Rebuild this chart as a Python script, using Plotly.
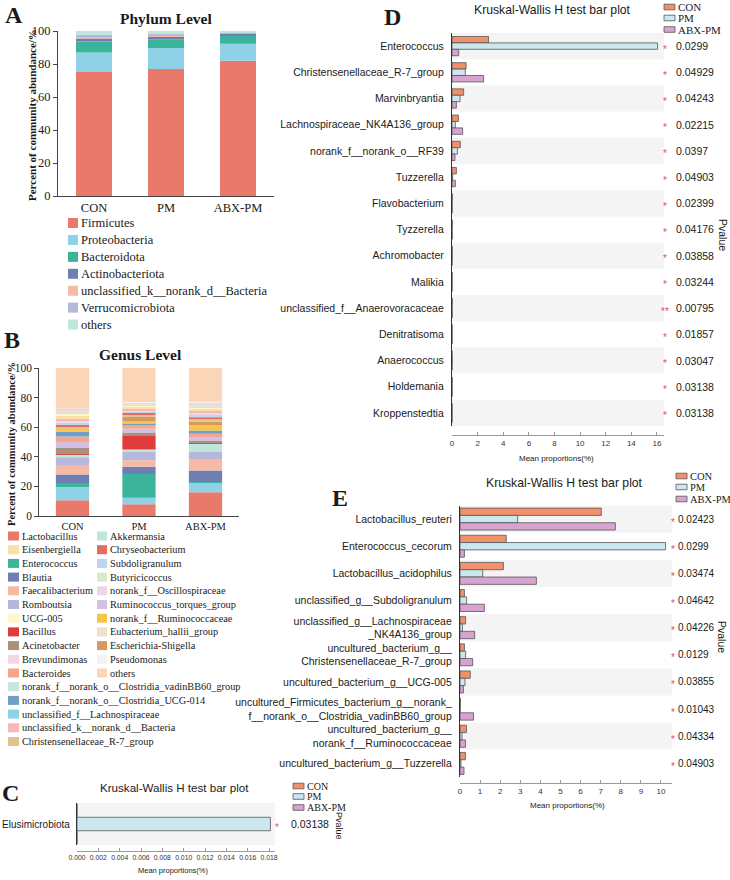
import numpy as np
import plotly.graph_objects as go

W, H = 730, 880
SERIF = "Times New Roman, Liberation Serif, serif"
SANS = "Arial, Liberation Sans, Helvetica, sans-serif"


def fx(x):
    return x / W


def fy(y):
    return 1 - y / H


# ---------------- data ----------------
groups = ["CON", "PM", "ABX-PM"]

# Panel A - phylum level (percent)
phylum_names = ["Firmicutes", "Proteobacteria", "Bacteroidota", "Actinobacteriota",
                "unclassified_k__norank_d__Bacteria", "Verrucomicrobiota", "others"]
phylum_con = [75.2, 11.8, 6.7, 1.8, 1.3, 0.9, 2.3]
phylum_pm = [77.0, 12.7, 5.3, 1.5, 0.9, 0.6, 2.0]
phylum_abx = [82.0, 10.3, 5.1, 0.9, 0.3, 0.5, 0.9]

# Panel B - genus level (percent), stack order bottom -> top
genus_names = ["Lactobacillus", "unclassified_f__Lachnospiraceae", "Enterococcus", "Blautia",
               "Faecalibacterium", "Romboutsia", "Akkermansia", "Bacillus", "Acinetobacter",
               "Ruminococcus_torques_group", "Bacteroides", "norank_f__norank_o__Clostridia_UCG-014",
               "norank_f__Ruminococcaceae", "Escherichia-Shigella", "Christensenellaceae_R-7_group",
               "Chryseobacterium", "Subdoligranulum", "norank_f__Oscillospiraceae",
               "unclassified_k__norank_d__Bacteria", "Eisenbergiella", "UCG-005", "Butyricicoccus",
               "Eubacterium_hallii_group", "Brevundimonas",
               "norank_f__norank_o__Clostridia_vadinBB60_group", "Pseudomonas", "others"]
genus_con = [10.7, 8.9, 2.7, 5.8, 5.8, 5.8, 1.8, 0.3, 4.4, 3.8, 3.8, 3.3, 1.8, 0.4, 1.0,
             1.2, 1.5, 1.5, 1.0, 2.0, 2.0, 1.0, 0.8, 0.6, 0.5, 0.3, 27.3]
genus_pm = [8.0, 4.4, 16.0, 4.9, 4.4, 5.8, 1.5, 9.1, 2.4, 2.4, 2.2, 1.5, 1.2, 3.4, 1.4,
            1.0, 0.9, 1.0, 1.2, 1.0, 0.8, 0.7, 0.9, 0.3, 0.4, 0.3, 22.9]
genus_abx = [16.0, 6.7, 0.5, 7.5, 7.3, 5.3, 5.6, 0.2, 1.5, 2.7, 2.2, 2.2, 3.8, 2.2, 2.0,
             0.8, 1.8, 1.6, 1.0, 1.5, 1.0, 1.2, 1.0, 0.4, 1.0, 0.2, 22.8]

genus_legend_col1 = ["Lactobacillus", "Eisenbergiella", "Enterococcus", "Blautia",
                     "Faecalibacterium", "Romboutsia", "UCG-005", "Bacillus", "Acinetobacter",
                     "Brevundimonas", "Bacteroides",
                     "norank_f__norank_o__Clostridia_vadinBB60_group",
                     "norank_f__norank_o__Clostridia_UCG-014",
                     "unclassified_f__Lachnospiraceae", "unclassified_k__norank_d__Bacteria",
                     "Christensenellaceae_R-7_group"]
genus_legend_col2 = ["Akkermansia", "Chryseobacterium", "Subdoligranulum", "Butyricicoccus",
                     "norank_f__Oscillospiraceae", "Ruminococcus_torques_group",
                     "norank_f__Ruminococcaceae", "Eubacterium_hallii_group",
                     "Escherichia-Shigella", "Pseudomonas", "others"]

# Panel C
c_cats = ["Elusimicrobiota"]
c_con = [0.0]
c_pm = [0.01813]
c_abx = [0.0]
c_pvals = [0.03138]
c_sig = ["*"]

# Panel D
d_cats = ["Enterococcus", "Christensenellaceae_R-7_group", "Marvinbryantia",
          "Lachnospiraceae_NK4A136_group", "norank_f__norank_o__RF39", "Tuzzerella",
          "Flavobacterium", "Tyzzerella", "Achromobacter", "Malikia",
          "unclassified_f__Anaerovoracaceae", "Denitratisoma", "Anaerococcus", "Holdemania",
          "Kroppenstedtia"]
d_con = [2.85, 1.10, 0.91, 0.50, 0.65, 0.34, 0.02, 0.02, 0.01, 0.01, 0.02, 0.01, 0.005, 0.01, 0.003]
d_pm = [16.05, 1.04, 0.63, 0.26, 0.42, 0.05, 0.01, 0.01, 0.02, 0.01, 0.005, 0.005, 0.02, 0.003, 0.01]
d_abx = [0.52, 2.47, 0.34, 0.83, 0.23, 0.26, 0.01, 0.02, 0.005, 0.005, 0.01, 0.01, 0.005, 0.01, 0.002]
d_pvals = [0.0299, 0.04929, 0.04243, 0.02215, 0.0397, 0.04903, 0.02399, 0.04176, 0.03858,
           0.03244, 0.00795, 0.01857, 0.03047, 0.03138, 0.03138]
d_sig = ["*", "*", "*", "*", "*", "*", "*", "*", "*", "*", "**", "*", "*", "*", "*"]

# Panel E
e_cats = ["Lactobacillus_reuteri", "Enterococcus_cecorum", "Lactobacillus_acidophilus",
          "unclassified_g__Subdoligranulum",
          "unclassified_g__Lachnospiraceae<br>_NK4A136_group",
          "uncultured_bacterium_g__<br>Christensenellaceae_R-7_group",
          "uncultured_bacterium_g__UCG-005",
          "uncultured_Firmicutes_bacterium_g__norank_<br>f__norank_o__Clostridia_vadinBB60_group",
          "uncultured_bacterium_g__<br>norank_f__Ruminococcaceae",
          "uncultured_bacterium_g__Tuzzerella"]
e_con = [7.03, 2.30, 2.16, 0.22, 0.28, 0.22, 0.51, 0.02, 0.32, 0.27]
e_pm = [2.87, 10.23, 1.13, 0.33, 0.12, 0.28, 0.25, 0.01, 0.10, 0.05]
e_abx = [7.73, 0.22, 3.80, 1.21, 0.73, 0.63, 0.17, 0.67, 0.27, 0.20]
e_pvals = [0.02423, 0.0299, 0.03474, 0.04642, 0.04226, 0.0129, 0.03855, 0.01043, 0.04334, 0.04903]
e_sig = ["*"] * 10

# ---------------- styles ----------------
phylum_colors = {
    "Firmicutes": "#E8796B", "Proteobacteria": "#8FD1E6", "Bacteroidota": "#3CB39B",
    "Actinobacteriota": "#6E7FB3", "unclassified_k__norank_d__Bacteria": "#F6B9A4",
    "Verrucomicrobiota": "#B5B8DA", "others": "#BFE6DC",
}
genus_colors = {
    "Lactobacillus": "#E8796B", "Eisenbergiella": "#FDDDA8", "Enterococcus": "#3CB39B",
    "Blautia": "#6E7FB3", "Faecalibacterium": "#F6B9A4", "Romboutsia": "#B5B8DA",
    "UCG-005": "#FFF6CF", "Bacillus": "#E23B3B", "Acinetobacter": "#A8917D",
    "Brevundimonas": "#F8D5E6", "Bacteroides": "#F4A58B",
    "norank_f__norank_o__Clostridia_vadinBB60_group": "#C7E6DD",
    "norank_f__norank_o__Clostridia_UCG-014": "#6E9FC8",
    "unclassified_f__Lachnospiraceae": "#8FD1E6",
    "unclassified_k__norank_d__Bacteria": "#F7B8B8",
    "Christensenellaceae_R-7_group": "#E3C08C", "Akkermansia": "#BFE6DC",
    "Chryseobacterium": "#E56B5D", "Subdoligranulum": "#BCD6EE", "Butyricicoccus": "#D7EACB",
    "norank_f__Oscillospiraceae": "#EBD7EC", "Ruminococcus_torques_group": "#D5BFE2",
    "norank_f__Ruminococcaceae": "#F8C545", "Eubacterium_hallii_group": "#EDE1C9",
    "Escherichia-Shigella": "#D7985F", "Pseudomonas": "#F7F1F1", "others": "#FBD5B8",
}
group_colors = {"CON": "#F0916B", "PM": "#CBE8EE", "ABX-PM": "#D8A2D3"}
STAR = "#E0506A"
SHADE = "#F4F4F4"

fig = go.Figure()


# ---------------- stacked bars (A, B) ----------------
def stacked(names, con, pm, abx, colors, xa, ya):
    vals = np.array([con, pm, abx], dtype=float).T
    base = np.zeros(3)
    for name, v in zip(names, vals):
        fig.add_trace(go.Bar(x=groups, y=v, base=base.copy(), width=0.5, name=name,
                             marker=dict(color=colors[name], line=dict(width=0)),
                             xaxis=xa, yaxis=ya, showlegend=False))
        base = base + v


stacked(phylum_names, phylum_con, phylum_pm, phylum_abx, phylum_colors, "x", "y")
stacked(genus_names, genus_con, genus_pm, genus_abx, genus_colors, "x2", "y2")


# ---------------- grouped horizontal bars (C, D, E) ----------------
def grouped(cats, series, xa, ya, w):
    for k, (g, v) in enumerate(zip(groups, series)):
        fig.add_trace(go.Bar(y=cats, x=v, orientation="h", width=w, offset=(k - 1.5) * w,
                             name=g, marker=dict(color=group_colors[g],
                                                 line=dict(color="#555555", width=0.8)),
                             xaxis=xa, yaxis=ya, showlegend=False))


grouped(c_cats, [c_con, c_pm, c_abx], "x3", "y3", 0.32)
grouped(d_cats, [d_con, d_pm, d_abx], "x4", "y4", 0.245)
grouped(e_cats, [e_con, e_pm, e_abx], "x5", "y5", 0.27)

ann = []
shapes = []


def text(x, y, s, size, family=SERIF, xanchor="left", yanchor="middle", color="#1a1a1a",
         angle=0, yref="paper", yshift=0):
    ann.append(dict(x=fx(x), y=(fy(y) if yref == "paper" else y),
                    xref="paper", yref=yref, text=s, showarrow=False,
                    xanchor=xanchor, yanchor=yanchor, textangle=angle, yshift=yshift,
                    font=dict(family=family, size=size, color=color), borderpad=0))


def rect(x0, y0, x1, y1, color, lw=0, lc="#555555"):
    shapes.append(dict(type="rect", xref="paper", yref="paper", x0=fx(x0), x1=fx(x1),
                       y0=fy(y1), y1=fy(y0), fillcolor=color,
                       line=dict(width=lw, color=lc), layer="above"))


def shade_rows(n, xa, ya):
    for i in range(0, n, 2):
        shapes.append(dict(type="rect", xref=xa + " domain", yref=ya, x0=0, x1=1,
                           y0=i - 0.5, y1=i + 0.5, fillcolor=SHADE, line=dict(width=0),
                           layer="below"))


# ---------------- panel A texts / legend ----------------
text(14, 15, "<b>A</b>", 24, xanchor="center")
text(166, 18, "<b>Phylum Level</b>", 15.5, xanchor="center")
text(32, 115, "<b>Percent of community abundance/%</b>", 11, xanchor="center", angle=-90)
for i, name in enumerate(phylum_names):
    yc = 223 + 16.93 * i
    rect(68, yc - 5, 78, yc + 5, phylum_colors[name])
    text(80, yc, name, 12.5)

# ---------------- panel B texts / legend ----------------
text(12, 340, "<b>B</b>", 24, xanchor="center")
text(140, 355, "<b>Genus Level</b>", 15.5, xanchor="center")
text(11, 444, "<b>Percent of community abundance/%</b>", 10.5, xanchor="center", angle=-90)
for i, name in enumerate(genus_legend_col1):
    yc = 536 + 13.7 * i
    rect(8, yc - 4.5, 19, yc + 4.5, genus_colors[name])
    text(21, yc, name, 10.3)
for i, name in enumerate(genus_legend_col2):
    yc = 536 + 13.7 * i
    rect(97, yc - 4.5, 107, yc + 4.5, genus_colors[name])
    text(109, yc, name, 10.3)


# ---------------- group legends ----------------
def group_legend(xs, ys, size):
    for g, yc in zip(groups, ys):
        rect(xs, yc - 2.8, xs + 11, yc + 2.8, group_colors[g], lw=0.8)
        text(xs + 13, yc, g, size)


# ---------------- panel C ----------------
text(10, 793, "<b>C</b>", 24, xanchor="center")
text(174, 787, "Kruskal-Wallis H test bar plot", 11.6, family=SANS, xanchor="center")
group_legend(293, [786, 796.5, 807.5], 10)
text(173, 870, "Mean proportions(%)", 7.5, family=SANS, xanchor="center")
text(339, 826, "Pvalue", 9, family=SANS, xanchor="center", angle=90)
for i, (p, s) in enumerate(zip(c_pvals, c_sig)):
    text(277, i, s, 10, family=SANS, xanchor="center", yref="y3", color=STAR, yshift=-3)
    text(290, i, str(p), 10.5, family=SANS, yref="y3")
shade_rows(len(c_cats), "x3", "y3")

# ---------------- panel D ----------------
text(393, 17, "<b>D</b>", 24, xanchor="center")
text(552, 10, "Kruskal-Wallis H test bar plot", 12.2, family=SANS, xanchor="center")
group_legend(664, [7, 18, 29.5], 11)
text(556, 458, "Mean proportions(%)", 8, family=SANS, xanchor="center")
text(723, 235, "Pvalue", 10.5, family=SANS, xanchor="center", angle=90)
for i, (p, s) in enumerate(zip(d_pvals, d_sig)):
    text(665, i, s, 10, family=SANS, xanchor="center", yref="y4", color=STAR, yshift=-3)
    text(675, i, str(p), 10.5, family=SANS, yref="y4")
shade_rows(len(d_cats), "x4", "y4")

# ---------------- panel E ----------------
text(340, 498, "<b>E</b>", 24, xanchor="center")
text(564, 483, "Kruskal-Wallis H test bar plot", 12.2, family=SANS, xanchor="center")
group_legend(676, [476, 487, 499], 10.5)
text(567, 805, "Mean proportions(%)", 8, family=SANS, xanchor="center")
text(722, 637, "Pvalue", 10.5, family=SANS, xanchor="center", angle=90)
for i, (p, s) in enumerate(zip(e_pvals, e_sig)):
    text(673, i, s, 10, family=SANS, xanchor="center", yref="y5", color=STAR, yshift=-3)
    text(677, i, str(p), 10, family=SANS, yref="y5")
shade_rows(len(e_cats), "x5", "y5")

# ---------------- axes ----------------
cat_x = dict(type="category", showline=True, linecolor="#444444", linewidth=1, ticks="",
             showgrid=False, zeroline=False)
pct_y = dict(range=[0, 100], dtick=20, tick0=0, showline=True, linecolor="#444444",
             linewidth=1, ticks="outside", ticklen=4, tickcolor="#444444",
             showgrid=False, zeroline=False)
prop_x = dict(showline=True, linecolor="#9a9a9a", linewidth=1, ticks="inside", ticklen=3,
              tickcolor="#9a9a9a", showgrid=False, zeroline=False, anchor="free",
              tickangle=0, tickfont=dict(family=SANS, size=8, color="#333333"))
cat_y = dict(type="category", showline=True, linecolor="#333333", linewidth=1.3, ticks="",
             showgrid=False, zeroline=False, ticklabelstandoff=5,
             tickfont=dict(family=SANS, size=10.5, color="#1a1a1a"))

fig.update_layout(
    template="none",
    width=W, height=H, autosize=False,
    margin=dict(l=0, r=0, t=0, b=0),
    paper_bgcolor="white", plot_bgcolor="rgba(0,0,0,0)",
    barmode="overlay",
    font=dict(family=SANS, size=10, color="#1a1a1a"),
    showlegend=False,
    hovermode=False,
    xaxis=dict(cat_x, domain=[fx(58), fx(274)], anchor="y",
               tickfont=dict(family=SERIF, size=12.5, color="#1a1a1a")),
    yaxis=dict(pct_y, domain=[fy(196), fy(31)], anchor="x",
               tickfont=dict(family=SERIF, size=12.5, color="#1a1a1a")),
    xaxis2=dict(cat_x, domain=[fx(39.25), fx(238.75)], anchor="y2",
                tickfont=dict(family=SERIF, size=10.5, color="#1a1a1a")),
    yaxis2=dict(pct_y, domain=[fy(516), fy(368)], anchor="x2",
                tickfont=dict(family=SERIF, size=11.5, color="#1a1a1a")),
    xaxis3=dict(prop_x, domain=[fx(77), fx(275)], range=[0, 0.01856], dtick=0.002, tick0=0,
                tickformat=".3f", position=fy(851),
                tickfont=dict(family=SANS, size=6.8, color="#333333")),
    yaxis3=dict(cat_y, domain=[fy(845), fy(803)], range=[0.5, -0.5], anchor="x3",
                ticklabelstandoff=4, tickfont=dict(family=SANS, size=10, color="#1a1a1a")),
    xaxis4=dict(prop_x, domain=[fx(452), fx(664)], range=[0, 16.55], dtick=2, tick0=0,
                position=fy(435)),
    yaxis4=dict(cat_y, domain=[fy(426), fy(33)], range=[len(d_cats) - 0.5, -0.5], anchor="x4"),
    xaxis5=dict(prop_x, domain=[fx(460), fx(672)], range=[0, 10.55], dtick=1, tick0=0,
                position=fy(783)),
    yaxis5=dict(cat_y, domain=[fy(777), fy(505.5)], range=[len(e_cats) - 0.5, -0.5], anchor="x5"),
    annotations=ann,
    shapes=shapes,
)

fig.write_html("out.html", config={"displayModeBar": False},
               post_script="document.body.style.margin='0';document.body.style.overflow='hidden';")
